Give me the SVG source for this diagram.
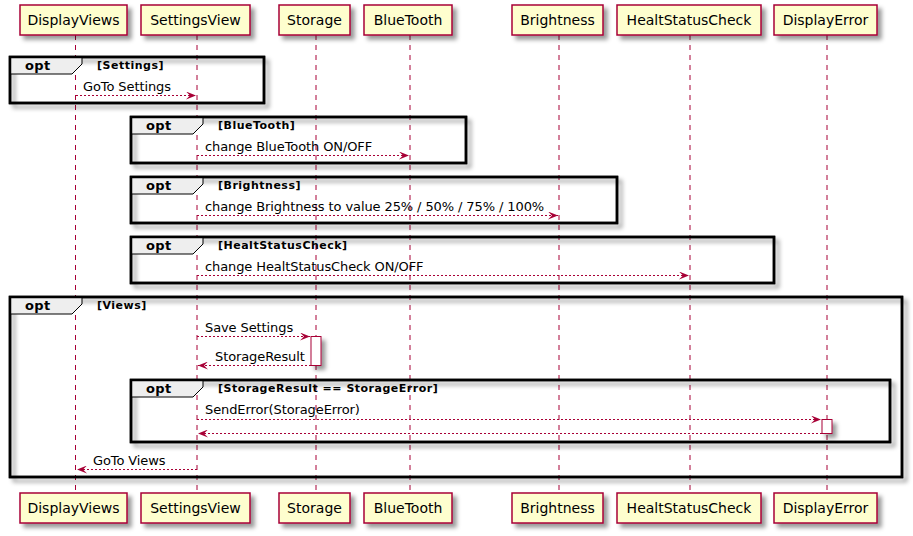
<svg xmlns="http://www.w3.org/2000/svg" width="913" height="536" viewBox="0 0 913 536">
<defs>
<filter id="sh" x="-1" y="-1" width="300%" height="300%">
<feGaussianBlur stdDeviation="2" result="b"/>
<feColorMatrix in="b" type="matrix" values="0 0 0 0 0 0 0 0 0 0 0 0 0 0 0 0 0 0 .4 0" result="b2"/>
<feOffset in="b2" dx="4" dy="4" result="b3"/>
<feBlend in="SourceGraphic" in2="b3" mode="normal"/>
</filter>
<marker id="ah" viewBox="0 0 10 8" refX="10" refY="4" markerWidth="10" markerHeight="8" markerUnits="userSpaceOnUse" orient="auto">
<polygon points="0,0 10,4 0,8 4,4" fill="#A80036"/>
</marker>
<style>
.life{stroke:#A80036;stroke-width:1;stroke-dasharray:5,5;fill:none}
.part rect{fill:#FEFECE;stroke:#A80036;stroke-width:1.5}
.part text{font-family:"DejaVu Sans",sans-serif;font-size:14px;fill:#000;text-anchor:middle}
.frame{fill:none;stroke:#000;stroke-width:2.5}
.tab{fill:#EEEEEE;stroke:#000;stroke-width:1}
.opt{font-family:"DejaVu Sans",sans-serif;font-size:13px;font-weight:bold;fill:#000;letter-spacing:0.4px}
.cond{font-family:"DejaVu Sans",sans-serif;font-size:11px;font-weight:bold;fill:#000;letter-spacing:0.5px}
.msg{stroke:#A80036;stroke-width:1;stroke-dasharray:2,2;fill:none;marker-end:url(#ah)}
.ml{font-family:"DejaVu Sans",sans-serif;font-size:13px;fill:#000;letter-spacing:-0.1px}
.act{fill:#FFFFFF;stroke:#A80036;stroke-width:1}
</style>
</defs>
<rect width="913" height="536" fill="#FFFFFF"/>
<g id="lifelines">
<line class="life" x1="75.5" y1="35" x2="75.5" y2="493"/>
<line class="life" x1="197" y1="35" x2="197" y2="493"/>
<line class="life" x1="316" y1="35" x2="316" y2="493"/>
<line class="life" x1="410" y1="35" x2="410" y2="493"/>
<line class="life" x1="559" y1="35" x2="559" y2="493"/>
<line class="life" x1="690" y1="35" x2="690" y2="493"/>
<line class="life" x1="827" y1="35" x2="827" y2="493"/>
</g>
<g id="DisplayViews" class="part">
<rect x="20" y="5" width="107" height="30" filter="url(#sh)"/><text x="73.5" y="25">DisplayViews</text>
<rect x="20" y="493" width="107" height="30" filter="url(#sh)"/><text x="73.5" y="513">DisplayViews</text>
</g>
<g id="SettingsView" class="part">
<rect x="141" y="5" width="109" height="30" filter="url(#sh)"/><text x="195.5" y="25">SettingsView</text>
<rect x="141" y="493" width="109" height="30" filter="url(#sh)"/><text x="195.5" y="513">SettingsView</text>
</g>
<g id="Storage" class="part">
<rect x="279" y="5" width="71" height="30" filter="url(#sh)"/><text x="314.5" y="25">Storage</text>
<rect x="279" y="493" width="71" height="30" filter="url(#sh)"/><text x="314.5" y="513">Storage</text>
</g>
<g id="BlueTooth" class="part">
<rect x="364" y="5" width="88" height="30" filter="url(#sh)"/><text x="408" y="25">BlueTooth</text>
<rect x="364" y="493" width="88" height="30" filter="url(#sh)"/><text x="408" y="513">BlueTooth</text>
</g>
<g id="Brightness" class="part">
<rect x="512" y="5" width="91" height="30" filter="url(#sh)"/><text x="557.5" y="25">Brightness</text>
<rect x="512" y="493" width="91" height="30" filter="url(#sh)"/><text x="557.5" y="513">Brightness</text>
</g>
<g id="HealtStatusCheck" class="part">
<rect x="617" y="5" width="144" height="30" filter="url(#sh)"/><text x="689" y="25">HealtStatusCheck</text>
<rect x="617" y="493" width="144" height="30" filter="url(#sh)"/><text x="689" y="513">HealtStatusCheck</text>
</g>
<g id="DisplayError" class="part">
<rect x="774" y="5" width="103" height="30" filter="url(#sh)"/><text x="825.5" y="25">DisplayError</text>
<rect x="774" y="493" width="103" height="30" filter="url(#sh)"/><text x="825.5" y="513">DisplayError</text>
</g>
<g id="activations">
<rect class="act" x="311" y="336.5" width="10" height="29" filter="url(#sh)"/>
<rect class="act" x="822" y="419.5" width="10" height="14" filter="url(#sh)"/>
</g>
<g id="frames">
<g id="opt-settings">
<rect class="frame" x="10" y="57" width="254" height="46" filter="url(#sh)"/>
<path class="tab" d="M10,57 H82 V64 L72,74 H10 Z"/>
<rect class="frame" x="10" y="57" width="254" height="46"/>
<text class="opt" x="25" y="70">opt</text><text class="cond" x="97" y="69">[Settings]</text>
</g>
<g id="opt-bluetooth">
<rect class="frame" x="131" y="117" width="335" height="46" filter="url(#sh)"/>
<path class="tab" d="M131,117 H203 V124 L193,134 H131 Z"/>
<rect class="frame" x="131" y="117" width="335" height="46"/>
<text class="opt" x="146" y="130">opt</text><text class="cond" x="218" y="129">[BlueTooth]</text>
</g>
<g id="opt-brightness">
<rect class="frame" x="131" y="177" width="486" height="46" filter="url(#sh)"/>
<path class="tab" d="M131,177 H203 V184 L193,194 H131 Z"/>
<rect class="frame" x="131" y="177" width="486" height="46"/>
<text class="opt" x="146" y="190">opt</text><text class="cond" x="218" y="189">[Brightness]</text>
</g>
<g id="opt-health">
<rect class="frame" x="131" y="237" width="643" height="46" filter="url(#sh)"/>
<path class="tab" d="M131,237 H203 V244 L193,254 H131 Z"/>
<rect class="frame" x="131" y="237" width="643" height="46"/>
<text class="opt" x="146" y="250">opt</text><text class="cond" x="218" y="249">[HealtStatusCheck]</text>
</g>
<g id="opt-views">
<rect class="frame" x="10" y="297" width="892" height="180" filter="url(#sh)"/>
<path class="tab" d="M10,297 H82 V304 L72,314 H10 Z"/>
<rect class="frame" x="10" y="297" width="892" height="180"/>
<text class="opt" x="25" y="310">opt</text><text class="cond" x="97" y="309">[Views]</text>
</g>
<g id="opt-storageerror">
<rect class="frame" x="131" y="380" width="759" height="62" filter="url(#sh)"/>
<path class="tab" d="M131,380 H203 V387 L193,397 H131 Z"/>
<rect class="frame" x="131" y="380" width="759" height="62"/>
<text class="opt" x="146" y="393">opt</text><text class="cond" x="218" y="392">[StorageResult == StorageError]</text>
</g>
</g>
<g id="connectors">
<line class="msg" x1="76" y1="95.5" x2="196" y2="95.5"/>
<text class="ml" x="83" y="90.5">GoTo Settings</text>
<line class="msg" x1="197" y1="155.5" x2="409" y2="155.5"/>
<text class="ml" x="205" y="150.5">change BlueTooth ON/OFF</text>
<line class="msg" x1="197" y1="215.5" x2="558" y2="215.5"/>
<text class="ml" x="205" y="210.5">change Brightness to value 25% / 50% / 75% / 100%</text>
<line class="msg" x1="197" y1="275.5" x2="689" y2="275.5"/>
<text class="ml" x="205" y="270.5">change HealtStatusCheck ON/OFF</text>
<line class="msg" x1="197" y1="336.5" x2="310" y2="336.5"/>
<text class="ml" x="205" y="331.5">Save Settings</text>
<line class="msg" x1="311" y1="365.5" x2="198" y2="365.5"/>
<text class="ml" x="215" y="360.5">StorageResult</text>
<line class="msg" x1="197" y1="419.5" x2="821" y2="419.5"/>
<text class="ml" x="205" y="414">SendError(StorageError)</text>
<line class="msg" x1="822" y1="433.5" x2="198" y2="433.5"/>
<line class="msg" x1="197" y1="469.5" x2="77" y2="469.5"/>
<text class="ml" x="93" y="464.5">GoTo Views</text>
</g>
</svg>
